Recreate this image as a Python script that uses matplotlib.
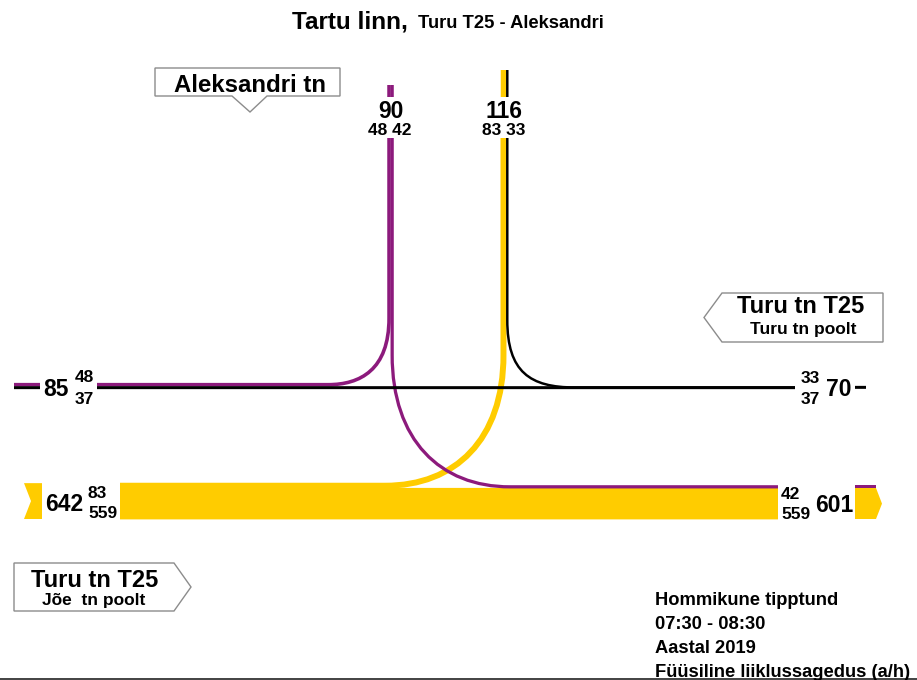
import matplotlib
matplotlib.use("Agg")
import matplotlib.pyplot as plt
from matplotlib.path import Path
from matplotlib.patches import PathPatch, Polygon

# ---------------- data (vehicles per hour) ----------------
# Turu tn, from Jõe (west) -> eastbound
joe_through = 559      # straight on to Turu side
joe_to_aleksandri = 83  # left turn into Aleksandri tn
# Turu tn, from Turu (east) -> westbound
turu_through = 37
turu_to_aleksandri = 33
# Aleksandri tn outgoing
aleks_to_joe = 48
aleks_to_turu = 42

title_main = "Tartu linn,"
title_sub = "Turu T25 - Aleksandri"
info_lines = ["Hommikune tipptund", "07:30 - 08:30", "Aastal 2019",
              "Füüsiline liiklussagedus (a/h)"]

# ---------------- derived totals ----------------
west_in = joe_through + joe_to_aleksandri              # 642
west_out = aleks_to_joe + turu_through                 # 85
east_in = turu_through + turu_to_aleksandri            # 70
east_out = aleks_to_turu + joe_through                 # 601
aleks_out = aleks_to_joe + aleks_to_turu               # 90
aleks_in = joe_to_aleksandri + turu_to_aleksandri      # 116

# ---------------- figure ----------------
W, H, DPI = 917, 680, 100
S = 30.0 / 559  # pixels per vehicle
PURPLE = "#8C1A7C"
YELLOW = "#FFCC00"
BLACK = "#000000"
FONT = "Liberation Sans"

fig = plt.figure(figsize=(W / DPI, H / DPI), dpi=DPI)
ax = fig.add_axes([0, 0, 1, 1])
ax.set_xlim(0, W)
ax.set_ylim(H, 0)
ax.axis("off")


def wpx(v):
    return v * S + 0.7


def lw(v, extra=0.3):
    # a little overlap so stacked flows render without seams
    return (wpx(v) + extra) * 72.0 / DPI


def seg(x0, y0, x1, y1, v, c, z=2, extra=0.3):
    ax.plot([x0, x1], [y0, y1], color=c, lw=lw(v, extra), solid_capstyle="butt",
            zorder=z, snap=False)


def path(verts, codes, v, c, z=2, extra=0.3):
    p = Path(verts, codes)
    ax.add_patch(PathPatch(p, fill=False, edgecolor=c, lw=lw(v, extra), capstyle="butt",
                           joinstyle="round", zorder=z, snap=False))


M, L, C = Path.MOVETO, Path.LINETO, Path.CURVE4

# lane geometry
UP_BOT = 389.0
y_t37 = UP_BOT - wpx(turu_through) / 2
y_t33 = UP_BOT - wpx(turu_to_aleksandri) / 2 - 0.3
y_a48 = UP_BOT - wpx(turu_through) - wpx(aleks_to_joe) / 2
LO_BOT = 519.0
y_559 = LO_BOT - wpx(joe_through) / 2
y_83 = LO_BOT - wpx(joe_through) - wpx(joe_to_aleksandri) / 2
y_42 = LO_BOT - wpx(joe_through) - wpx(aleks_to_turu) / 2
XA = 387.4
x_a48 = XA + wpx(aleks_to_joe) / 2
x_a42 = XA + wpx(aleks_to_joe) + wpx(aleks_to_turu) / 2
XB = 500.9
x_j83 = XB + wpx(joe_to_aleksandri) / 2
x_t33 = XB + wpx(joe_to_aleksandri) + wpx(turu_to_aleksandri) / 2

# ---- Aleksandri outgoing (purple) ----
seg(x_a48, 85, x_a48, 97, aleks_to_joe, PURPLE)
seg(x_a42, 85, x_a42, 97, aleks_to_turu, PURPLE)
path([(x_a48, 138), (x_a48, 318), (x_a48, 370), (360, y_a48), (328, y_a48), (97, y_a48)],
     [M, L, C, C, C, L], aleks_to_joe, PURPLE, z=3)
seg(14, y_a48, 40, y_a48, aleks_to_joe, PURPLE)
path([(x_a42, 138), (x_a42, 355), (x_a42, 440), (440, y_42), (510, y_42), (778, y_42)],
     [M, L, C, C, C, L], aleks_to_turu, PURPLE, z=4)

# ---- Jõe -> Aleksandri (yellow) ----
seg(x_j83, 70, x_j83, 97, joe_to_aleksandri, YELLOW)
path([(x_j83, 138), (x_j83, 355), (x_j83, 440), (455, y_83), (385, y_83), (120, y_83)],
     [M, L, C, C, C, L], joe_to_aleksandri, YELLOW, z=3, extra=0.8)
# ---- Jõe through (yellow band) ----
seg(120, y_559, 778, y_559, joe_through, YELLOW, z=2, extra=0.8)

# ---- Turu -> Aleksandri (black) ----
seg(x_t33, 70, x_t33, 97, turu_to_aleksandri, BLACK, extra=0.0)
path([(x_t33, 138), (x_t33, 320), (x_t33, 372), (530, y_t33), (575, y_t33), (795, y_t33)],
     [M, L, C, C, C, L], turu_to_aleksandri, BLACK, z=5, extra=0.0)
# ---- Turu through (black) ----
seg(97, y_t37, 795, y_t37, turu_through, BLACK, z=5)
seg(14, y_t37, 40, y_t37, turu_through, BLACK, z=5)
seg(855, y_t37 - 0.3, 866, y_t37 - 0.3, turu_through, BLACK, z=5)

# ---- left chevron (west entry) ----
top_w = LO_BOT - wpx(joe_through) - wpx(joe_to_aleksandri)
ax.add_patch(Polygon([(24, top_w), (42, top_w), (42, LO_BOT), (24, LO_BOT),
                      (31, (top_w + LO_BOT) / 2)], closed=True, fc=YELLOW, ec="none", zorder=2))
# ---- right arrow (east exit) ----
top_y = LO_BOT - wpx(joe_through)
top_e = top_y - wpx(aleks_to_turu)
ax.add_patch(Polygon([(855, top_y - 0.3), (876, top_y - 0.3), (882, (top_y + LO_BOT) / 2),
                      (876, LO_BOT), (855, LO_BOT)], closed=True, fc=YELLOW, ec="none", zorder=2))
ax.add_patch(Polygon([(855, top_e), (876, top_e), (876, top_y), (855, top_y)],
                     closed=True, fc=PURPLE, ec="none", zorder=3))


# ---------------- text ----------------
def txt(x, yc, s, size, ha="center"):
    ax.text(x, yc + 0.5 * size * 0.995, s, fontsize=size, fontweight="bold",
            family=FONT, ha=ha, va="baseline", zorder=10)


BIG, SMALL = 16.5, 12.5
txt(56, 388, str(west_out), BIG)
txt(75, 376, str(aleks_to_joe), SMALL, ha="left")
txt(75, 398, str(turu_through), SMALL, ha="left")

txt(801, 377, str(turu_to_aleksandri), SMALL, ha="left")
txt(801, 398, str(turu_through), SMALL, ha="left")
txt(839, 388, str(east_in), BIG)

txt(64, 503, str(west_in), BIG)
txt(88, 492, str(joe_to_aleksandri), SMALL, ha="left")
txt(88, 512, str(joe_through), SMALL, ha="left")

txt(781, 492.5, str(aleks_to_turu), SMALL, ha="left")
txt(781, 513, str(joe_through), SMALL, ha="left")
txt(834, 504, str(east_out), BIG)

txt(390.5, 109.5, str(aleks_out), BIG)
txt(390, 129, f"{aleks_to_joe} {aleks_to_turu}", SMALL)
txt(504, 109.5, str(aleks_in), BIG)
txt(503.5, 129, f"{joe_to_aleksandri} {turu_to_aleksandri}", SMALL)

# title
ax.text(292, 28, title_main, fontsize=17.5, fontweight="bold", family=FONT,
        ha="left", va="baseline")
ax.text(418, 28, title_sub, fontsize=13.2, fontweight="bold", family=FONT,
        ha="left", va="baseline")

# callout boxes
EC = "#8C8C8C"
ax.add_patch(Polygon([(155, 68), (340, 68), (340, 96), (267, 96), (250, 112), (232, 96),
                      (155, 96)], closed=True, fc="white", ec=EC, lw=1, zorder=8))
txt(250, 83, "Aleksandri tn", 17.3)

ax.add_patch(Polygon([(722, 293), (883, 293), (883, 342), (722, 342), (704, 317.5)],
                     closed=True, fc="white", ec=EC, lw=1, zorder=8))
txt(801, 305, "Turu tn T25", 17)
txt(803, 327.5, "Turu tn poolt", 12.5)

ax.add_patch(Polygon([(14, 563), (174, 563), (191, 587), (174, 611), (14, 611)],
                     closed=True, fc="white", ec=EC, lw=1, zorder=8))
txt(95, 578.5, "Turu tn T25", 17)
txt(94, 598.5, "Jõe  tn poolt", 12.5)

# info block
for i, s in enumerate(info_lines):
    ax.text(655, 605 + 24 * i, s, fontsize=13.2, fontweight="bold", family=FONT,
            ha="left", va="baseline", zorder=10)

ax.plot([0, W], [678.5, 678.5], color="#222222", lw=1.2, zorder=1)

fig.savefig("out.png", dpi=DPI)
